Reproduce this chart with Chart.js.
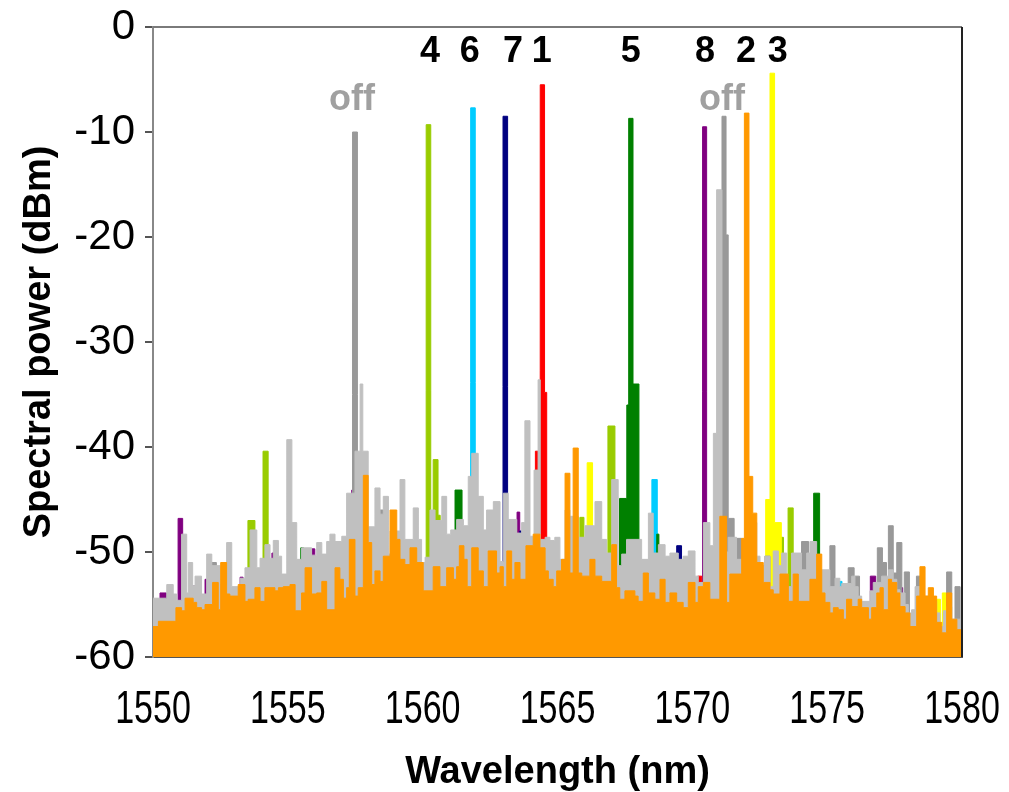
<!DOCTYPE html>
<html>
<head>
<meta charset="utf-8">
<title>Spectral power</title>
<script src="https://cdn.jsdelivr.net/npm/chart.js@4.4.1/dist/chart.umd.min.js"></script>
<style>
  html, body { margin: 0; padding: 0; background: #ffffff; }
  #wrap { width: 1009px; height: 792px; position: relative; }
</style>
</head>
<body>
<div id="wrap"><canvas id="chart-spectrum"></canvas></div>
<script>
// spectra: [wavelength nm, power dBm], each value held until the next point
const orangeSpectrum = [
    [1550.0, -57.1], [1550.2, -56.6], [1550.85, -55.3], [1551.06, -55.6], [1551.19, -54.4], [1551.49, -54.8],
    [1551.62, -55.3], [1551.8, -55.5], [1551.93, -55.0], [1552.21, -52.9], [1552.42, -55.5], [1552.51, -51.0],
    [1552.73, -54.0], [1552.85, -54.2], [1553.16, -53.1], [1553.41, -54.7], [1553.53, -54.5], [1553.78, -53.4],
    [1553.97, -54.7], [1554.15, -53.4], [1554.52, -53.7], [1554.65, -53.4], [1554.83, -53.3], [1555.08, -53.1],
    [1555.27, -55.6], [1555.51, -53.9], [1555.64, -51.5], [1555.88, -54.0], [1556.07, -53.9], [1556.26, -52.8],
    [1556.44, -55.5], [1556.75, -51.5], [1556.93, -52.6], [1557.06, -54.4], [1557.18, -53.4], [1557.28, -48.8],
    [1557.49, -54.2], [1557.61, -53.4], [1557.8, -42.7], [1557.98, -49.1], [1558.11, -53.1], [1558.23, -51.8],
    [1558.42, -52.8], [1558.54, -50.4], [1558.79, -46.0], [1559.04, -48.8], [1559.16, -50.7], [1559.34, -51.2],
    [1559.53, -49.6], [1559.78, -51.0], [1560.02, -53.7], [1560.39, -51.4], [1560.64, -53.3], [1560.89, -51.5],
    [1561.14, -52.6], [1561.26, -51.4], [1561.36, -49.4], [1561.53, -50.7], [1561.65, -53.3], [1561.82, -49.6],
    [1562.06, -51.8], [1562.25, -53.3], [1562.43, -49.9], [1562.74, -52.0], [1562.87, -51.4], [1562.99, -53.3],
    [1563.12, -49.9], [1563.3, -52.6], [1563.42, -51.0], [1563.61, -52.6], [1563.83, -49.4], [1564.1, -48.3],
    [1564.35, -49.6], [1564.54, -51.8], [1564.66, -52.6], [1564.84, -53.3], [1564.97, -51.8], [1565.15, -50.7],
    [1565.28, -42.5], [1565.46, -52.0], [1565.58, -40.1], [1565.77, -52.0], [1565.9, -52.3], [1566.2, -50.7],
    [1566.39, -52.3], [1566.64, -52.8], [1567.01, -49.3], [1567.19, -53.4], [1567.31, -54.5], [1567.5, -53.7],
    [1567.87, -54.2], [1567.99, -54.7], [1568.18, -52.0], [1568.37, -53.9], [1568.61, -54.5], [1568.8, -52.6],
    [1568.99, -54.8], [1569.17, -53.9], [1569.42, -54.8], [1569.66, -55.3], [1569.85, -52.9], [1570.1, -54.8],
    [1570.22, -53.3], [1570.41, -52.9], [1570.65, -54.5], [1571.02, -46.6], [1571.27, -54.8], [1571.39, -52.1],
    [1571.83, -48.7], [1571.93, -8.2], [1572.1, -42.8], [1572.24, -46.3], [1572.39, -51.0], [1572.63, -52.9],
    [1572.88, -53.6], [1573.0, -54.0], [1573.25, -52.1], [1573.56, -54.7], [1573.74, -52.1], [1573.93, -54.7],
    [1574.36, -52.6], [1574.61, -50.2], [1574.8, -53.9], [1574.92, -54.8], [1575.1, -55.8], [1575.23, -55.3],
    [1575.41, -55.5], [1575.6, -56.4], [1575.72, -54.5], [1575.91, -55.2], [1576.15, -54.5], [1576.28, -55.3],
    [1576.53, -56.4], [1576.65, -55.3], [1576.84, -53.9], [1576.96, -53.4], [1577.08, -55.5], [1577.27, -52.6],
    [1577.39, -52.9], [1577.58, -53.9], [1577.7, -55.2], [1577.89, -55.8], [1578.07, -57.1], [1578.32, -54.2],
    [1578.44, -51.4], [1578.63, -54.2], [1578.75, -53.4], [1578.94, -54.2], [1579.06, -56.7], [1579.25, -57.7],
    [1579.43, -53.9], [1579.62, -56.4], [1579.81, -57.4], [1580.0, -57.4]
];

const silverSpectrum = [
    [1550.0, -54.4], [1550.51, -53.1], [1550.75, -54.0], [1550.88, -54.6], [1551.06, -48.3], [1551.25, -53.9],
    [1551.31, -51.0], [1551.47, -53.2], [1551.56, -52.3], [1551.8, -54.0], [1551.99, -50.2], [1552.18, -51.3],
    [1552.49, -53.1], [1552.73, -49.1], [1552.92, -53.3], [1553.23, -52.5], [1553.41, -51.5], [1553.6, -47.9],
    [1553.85, -51.5], [1553.97, -50.6], [1554.15, -49.3], [1554.34, -50.6], [1554.46, -48.9], [1554.65, -50.4],
    [1554.77, -52.1], [1554.96, -39.3], [1555.15, -47.2], [1555.33, -50.7], [1555.51, -49.6], [1555.88, -50.3],
    [1556.07, -49.1], [1556.26, -50.2], [1556.44, -49.0], [1556.56, -48.3], [1556.75, -49.0], [1557.0, -48.5],
    [1557.18, -44.4], [1557.49, -40.4], [1557.68, -34.0], [1557.78, -40.4], [1557.98, -47.6], [1558.23, -43.9],
    [1558.42, -46.4], [1558.54, -44.7], [1558.73, -50.2], [1558.79, -48.0], [1559.16, -43.1], [1559.34, -48.8],
    [1559.65, -45.8], [1559.84, -48.8], [1559.96, -51.0], [1560.09, -50.5], [1560.27, -46.0], [1560.46, -47.0],
    [1560.71, -44.7], [1560.89, -48.3], [1561.04, -47.9], [1561.26, -46.9], [1561.51, -47.5], [1561.69, -42.8],
    [1561.82, -40.6], [1562.06, -44.7], [1562.25, -47.9], [1562.37, -46.0], [1562.62, -45.2], [1562.87, -50.9],
    [1562.99, -44.4], [1563.17, -46.9], [1563.49, -48.2], [1563.67, -47.2], [1563.79, -37.5], [1563.98, -48.5],
    [1564.13, -42.2], [1564.28, -33.6], [1564.36, -48.8], [1564.54, -48.6], [1564.72, -48.9], [1564.9, -48.6],
    [1565.09, -50.7], [1565.28, -46.0], [1565.46, -46.6], [1565.77, -48.6], [1566.02, -47.5], [1566.39, -45.2],
    [1566.64, -48.8], [1566.82, -50.1], [1567.01, -43.1], [1567.25, -51.3], [1567.38, -50.2], [1567.56, -48.8],
    [1568.12, -50.7], [1568.37, -46.3], [1568.55, -50.1], [1568.74, -49.3], [1568.99, -50.4], [1569.17, -50.1],
    [1569.48, -50.7], [1569.66, -50.4], [1569.85, -49.9], [1570.1, -52.3], [1570.22, -52.9], [1570.41, -47.2],
    [1570.65, -49.4], [1570.78, -38.7], [1570.9, -15.5], [1571.1, -50.0], [1571.33, -48.6], [1571.64, -50.7],
    [1571.83, -51.0], [1572.14, -47.2], [1572.39, -50.4], [1572.51, -51.3], [1572.69, -50.4], [1572.88, -53.3],
    [1573.0, -49.9], [1573.19, -51.3], [1573.31, -50.1], [1573.5, -53.3], [1573.68, -50.1], [1574.05, -51.7],
    [1574.24, -50.1], [1574.36, -49.0], [1574.61, -51.3], [1574.73, -51.7], [1575.1, -53.3], [1575.29, -52.5],
    [1575.47, -53.3], [1575.54, -53.0], [1575.91, -52.3], [1576.03, -53.3], [1576.15, -54.2], [1576.28, -54.7],
    [1576.59, -53.7], [1576.71, -52.9], [1577.02, -52.3], [1577.27, -51.7], [1577.45, -52.6], [1577.58, -53.6],
    [1577.7, -53.9], [1577.89, -55.0], [1578.01, -55.8], [1578.13, -55.5], [1578.26, -53.3], [1578.51, -54.2],
    [1578.94, -54.7], [1579.06, -55.8], [1579.18, -57.1], [1579.31, -55.6], [1579.43, -55.2], [1579.62, -56.4],
    [1580.0, -56.4]
];

const greySpectrum = [
    [1550.0, -60], [1552.18, -51.0], [1552.35, -60], [1557.4, -10.0], [1557.58, -60], [1558.42, -46.0],
    [1558.54, -60], [1571.1, -8.5], [1571.25, -19.8], [1571.33, -46.8], [1571.55, -48.7], [1571.83, -60],
    [1572.69, -50.4], [1572.88, -60], [1574.05, -49.0], [1574.31, -60], [1575.1, -49.4], [1575.29, -60],
    [1575.78, -51.5], [1576.0, -60], [1576.03, -52.3], [1576.2, -60], [1576.86, -49.6], [1577.05, -51.0],
    [1577.2, -60], [1577.27, -47.5], [1577.45, -52.0], [1577.58, -49.1], [1577.77, -60], [1577.86, -51.9],
    [1578.05, -60], [1578.31, -52.3], [1578.44, -60], [1579.43, -51.9], [1579.62, -60], [1579.74, -53.3],
    [1579.93, -60], [1580.0, -60]
];

const ch1Red = [
    [1550.0, -60], [1564.18, -40.4], [1564.28, -60], [1564.36, -5.5], [1564.52, -34.8], [1564.6, -60],
    [1570.2, -52.3], [1570.35, -60], [1580.0, -60]
];
const ch3Yellow = [
    [1550.0, -60], [1566.1, -41.5], [1566.3, -60], [1572.72, -45.0], [1572.88, -4.4], [1573.05, -47.2],
    [1573.3, -60], [1577.88, -55.0], [1578.0, -60], [1579.05, -54.5], [1579.2, -60], [1579.27, -53.9],
    [1579.45, -60], [1580.0, -60]
];
const ch4Lime = [
    [1550.0, -60], [1553.52, -47.0], [1553.78, -60], [1554.08, -40.4], [1554.27, -60], [1560.13, -9.3],
    [1560.3, -60], [1560.39, -41.2], [1560.57, -46.5], [1560.65, -60], [1565.83, -46.7], [1565.98, -60],
    [1566.87, -38.0], [1567.13, -60], [1573.2, -48.6], [1573.38, -60], [1573.55, -45.8], [1573.74, -60],
    [1580.0, -60]
];
const ch5Green = [
    [1550.0, -60], [1555.48, -49.6], [1555.58, -60], [1561.2, -44.1], [1561.46, -60], [1567.3, -44.9],
    [1567.57, -36.0], [1567.64, -8.7], [1567.8, -34.0], [1568.02, -60], [1568.68, -48.3], [1568.76, -60],
    [1574.5, -44.4], [1574.72, -60], [1580.0, -60]
];
const ch6Cyan = [
    [1550.0, -60], [1561.78, -7.7], [1561.95, -60], [1562.25, -48.3], [1562.4, -60], [1568.5, -43.1],
    [1568.7, -60], [1575.0, -52.8], [1575.2, -60], [1575.4, -52.8], [1575.55, -60], [1580.0, -60]
];
const ch7Navy = [
    [1550.0, -60], [1562.98, -8.5], [1563.15, -60], [1563.6, -48.0], [1563.72, -60], [1569.0, -50.7],
    [1569.12, -60], [1569.42, -49.4], [1569.6, -60], [1575.96, -52.6], [1576.15, -60], [1580.0, -60]
];
const ch8Purple = [
    [1550.0, -60], [1550.26, -53.9], [1550.5, -60], [1550.93, -46.8], [1551.1, -60], [1551.48, -53.2],
    [1551.56, -60], [1551.93, -52.6], [1552.0, -60], [1552.22, -52.1], [1552.3, -60], [1553.23, -52.4],
    [1553.34, -60], [1554.41, -50.1], [1554.49, -60], [1555.9, -49.7], [1556.0, -60], [1557.37, -44.1],
    [1557.46, -60], [1563.5, -46.2], [1563.6, -60], [1563.8, -48.9], [1563.88, -60], [1570.38, -9.5],
    [1570.53, -60], [1576.6, -52.3], [1576.8, -60], [1576.96, -52.0], [1577.06, -60], [1577.6, -53.4],
    [1577.8, -60], [1580.0, -60]
];

// channel numbers above the peaks, and the two switched-off channels
const channelNames = ['4', '6', '7', '1', '5', '8', '2', '3'];
const channelNameWl = [1560.27, 1561.75, 1563.35, 1564.42, 1567.72, 1570.47, 1571.99, 1573.17];
const offWl = [1557.38, 1571.1];
const xTickValues = [1550, 1555, 1560, 1565, 1570, 1575, 1580];

const toPoints = arr => arr.map(p => ({ x: p[0], y: p[1] }));

function spectrumSet(label, arr, color) {
    return {
        label: label,
        data: toPoints(arr),
        borderColor: color,
        backgroundColor: color,
        borderWidth: 1,
        pointRadius: 0,
        stepped: true,
        fill: 'start'
    };
}

// box lines on top and right of the plot, like the original
const frameBox = {
    id: 'frameBox',
    afterDraw(chart) {
        const { ctx, chartArea: a } = chart;
        ctx.save();
        ctx.lineWidth = 2;
        ctx.strokeStyle = '#7a7a7a';
        ctx.beginPath();
        ctx.moveTo(a.left, a.top);
        ctx.lineTo(a.right, a.top);
        ctx.stroke();
        ctx.strokeStyle = '#222222';
        ctx.beginPath();
        ctx.moveTo(a.right, a.top);
        ctx.lineTo(a.right, a.bottom);
        ctx.stroke();
        ctx.restore();
    }
};

// x tick labels in the condensed look of the original (squeezed horizontally)
const narrowXTicks = {
    id: 'narrowXTicks',
    afterDraw(chart) {
        const { ctx, scales } = chart;
        ctx.save();
        ctx.fillStyle = '#000000';
        ctx.textAlign = 'center';
        ctx.textBaseline = 'middle';
        ctx.font = '46px "Liberation Sans", Arial, sans-serif';
        xTickValues.forEach(v => {
            ctx.save();
            ctx.translate(scales.x.getPixelForValue(v), scales.x.bottom - 82);
            ctx.scale(0.74, 1);
            ctx.fillText(String(v), 0, 0);
            ctx.restore();
        });
        ctx.restore();
    }
};

const peakLabels = {
    id: 'peakLabels',
    afterDatasetsDraw(chart) {
        const { ctx, scales } = chart;
        ctx.save();
        ctx.textAlign = 'center';
        ctx.textBaseline = 'middle';
        ctx.font = 'bold 36px "Liberation Sans", Arial, sans-serif';
        ctx.fillStyle = '#000000';
        channelNames.forEach((t, i) => {
            ctx.fillText(t, scales.x.getPixelForValue(channelNameWl[i]), scales.y.getPixelForValue(-2.4));
        });
        ctx.fillStyle = '#a0a0a0';
        offWl.forEach(w => {
            ctx.fillText('off', scales.x.getPixelForValue(w), scales.y.getPixelForValue(-7.0));
        });
        ctx.restore();
    }
};

new Chart(document.getElementById('chart-spectrum'), {
    type: 'line',
    data: {
        datasets: [
            spectrumSet('ch 2', orangeSpectrum, '#ff9900'),
            spectrumSet('all', silverSpectrum, '#c0c0c0'),
            spectrumSet('off', greySpectrum, '#999999'),
            spectrumSet('ch 1', ch1Red, '#ff0000'),
            spectrumSet('ch 3', ch3Yellow, '#ffff00'),
            spectrumSet('ch 4', ch4Lime, '#99cc00'),
            spectrumSet('ch 5', ch5Green, '#008000'),
            spectrumSet('ch 6', ch6Cyan, '#00ccff'),
            spectrumSet('ch 7', ch7Navy, '#000080'),
            spectrumSet('ch 8', ch8Purple, '#800080')
        ]
    },
    options: {
        responsive: true,
        maintainAspectRatio: false,
        animation: false,
        layout: { padding: { top: 27, right: 47, left: 0, bottom: 0 } },
        plugins: {
            legend: { display: false },
            tooltip: { enabled: false }
        },
        scales: {
            x: {
                type: 'linear',
                min: 1550,
                max: 1580,
                afterFit: s => { s.height = 135; s.paddingLeft = 0; s.paddingRight = 0; },
                grid: { display: false, drawTicks: false },
                border: { display: true, color: '#555555', width: 2 },
                ticks: { display: false, stepSize: 5 },
                title: {
                    display: true,
                    text: 'Wavelength (nm)',
                    color: '#000000',
                    padding: { top: 0, bottom: 0 },
                    font: { family: '"Liberation Sans", Arial, sans-serif', size: 38, weight: 'bold', lineHeight: 1 }
                }
            },
            y: {
                min: -60,
                max: 0,
                afterFit: s => { s.width = 153; s.paddingTop = 0; s.paddingBottom = 0; },
                grid: { drawOnChartArea: false, drawTicks: true, tickLength: 8, color: '#555555', lineWidth: 2 },
                border: { display: true, color: '#888888', width: 2 },
                ticks: {
                    stepSize: 10,
                    padding: 10,
                    color: '#000000',
                    font: { family: '"Liberation Sans", Arial, sans-serif', size: 42 }
                },
                title: {
                    display: true,
                    text: 'Spectral power (dBm)',
                    color: '#000000',
                    padding: { top: 21, bottom: 0 },
                    font: { family: '"Liberation Sans", Arial, sans-serif', size: 38, weight: 'bold', lineHeight: 1 }
                }
            }
        }
    },
    plugins: [frameBox, narrowXTicks, peakLabels]
});
</script>
</body>
</html>
